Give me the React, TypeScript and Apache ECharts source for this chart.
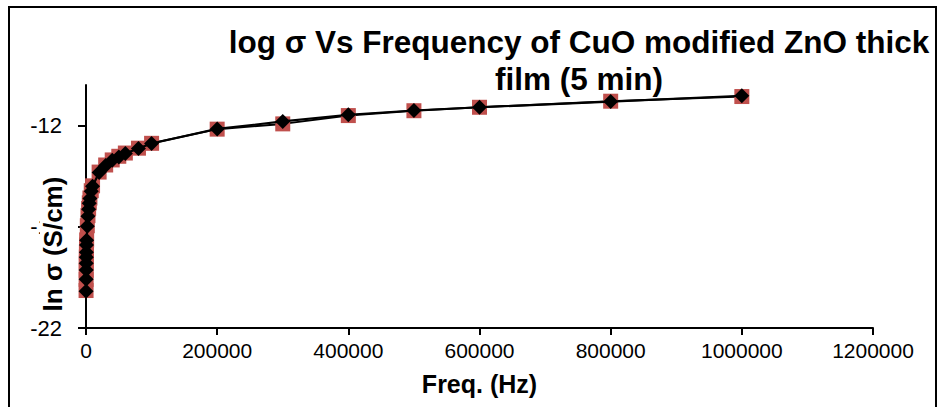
import React, { useEffect, useRef } from "react";
import * as echarts from "echarts";

// Frequencies (Hz)
const freqs = [
  100, 200, 300, 400, 500, 600, 800, 1000, 2000, 3000, 4000, 5000, 6000, 8000,
  10000, 20000, 30000, 40000, 50000, 60000, 80000, 100000, 200000, 300000,
  400000, 500000, 600000, 800000, 1000000,
];
// ln sigma (S/cm) — red square series
const lnSigmaSquares = [
  -20.15, -19.6, -19.15, -18.8, -18.5, -18.25, -17.9, -17.65, -16.95, -16.45,
  -16.1, -15.82, -15.58, -15.22, -14.98, -14.3, -13.95, -13.7, -13.52, -13.36,
  -13.12, -12.88, -12.18, -11.92, -11.51, -11.27, -11.1, -10.8, -10.57,
];
// ln sigma (S/cm) — black diamond series
const lnSigmaDiamonds = [
  -20.18, -19.59, -19.14, -18.8, -18.5, -18.26, -17.9, -17.67, -16.98, -16.48,
  -16.14, -15.84, -15.6, -15.25, -15.0, -14.32, -13.97, -13.72, -13.55, -13.38,
  -13.13, -12.89, -12.17, -11.8, -11.47, -11.26, -11.1, -10.82, -10.53,
];
const yTickValues = [-22, -17, -12];

const titleText = "log σ Vs Frequency of CuO modified ZnO thick\nfilm (5 min)";
const xName = "Freq. (Hz)";
const yName = "ln σ (S/cm)";

const FONT = "Liberation Sans, Arial, sans-serif";

export default function App() {
  const ref = useRef<HTMLDivElement>(null);
  useEffect(() => {
    if (!ref.current) return;
    const chart = echarts.init(ref.current, null, { renderer: "svg" });
    const sq = freqs.map((f, i) => [f, lnSigmaSquares[i]]);
    const di = freqs.map((f, i) => [f, lnSigmaDiamonds[i]]);
    chart.setOption({
      animation: false,
      backgroundColor: "#ffffff",
      title: {
        text: titleText,
        left: 579,
        top: 23,
        textAlign: "center",
        padding: 0,
        textStyle: {
          fontFamily: FONT,
          fontWeight: "bold",
          fontSize: 31.5,
          lineHeight: 37,
          color: "#000",
        },
      },
      grid: { left: 86, right: 67, top: 85, bottom: 79 },
      xAxis: {
        type: "value",
        min: 0,
        max: 1200000,
        interval: 200000,
        name: xName,
        nameLocation: "middle",
        nameGap: 43,
        nameTextStyle: {
          fontFamily: FONT,
          fontWeight: "bold",
          fontSize: 25,
          color: "#000",
        },
        axisLine: { lineStyle: { color: "#000", width: 2 } },
        axisTick: { length: 7, lineStyle: { color: "#000", width: 2 } },
        axisLabel: {
          fontFamily: FONT,
          fontSize: 21,
          color: "#000",
          margin: 12,
          formatter: (v: number) => String(v),
        },
        splitLine: { show: false },
      },
      yAxis: {
        type: "value",
        min: -22,
        max: -10,
        axisLine: { show: true, lineStyle: { color: "#000", width: 2 } },
        axisTick: {
          show: true,
          length: 8,
          customValues: yTickValues,
          lineStyle: { color: "#000", width: 2 },
        },
        axisLabel: {
          fontFamily: FONT,
          fontSize: 22,
          color: "#000",
          margin: 24,
          customValues: yTickValues,
        },
        splitLine: { show: false },
      },
      graphic: [
        {
          type: "rect",
          z: 100,
          silent: true,
          shape: { x: 9, y: 7, width: 927, height: 500 },
          style: { fill: "none", stroke: "#000", lineWidth: 2 },
        },
        {
          type: "text",
          z: 100,
          x: 53,
          y: 244,
          rotation: Math.PI / 2,
          style: {
            text: yName,
            fontFamily: FONT,
            fontWeight: "bold",
            fontSize: 26,
            fill: "#000",
            align: "center",
            verticalAlign: "middle",
            backgroundColor: "#fff",
            padding: [0, 2],
          },
        },
      ],
      series: [
        {
          type: "line",
          data: sq,
          symbol: "rect",
          symbolSize: 15,
          itemStyle: { color: "#C0504D" },
          lineStyle: { color: "#000", width: 2 },
          z: 2,
        },
        {
          type: "line",
          data: di,
          symbol: "diamond",
          symbolSize: 15,
          itemStyle: { color: "#000" },
          lineStyle: { color: "#000", width: 2.2 },
          z: 3,
        },
      ],
    });
    return () => chart.dispose();
  }, []);
  return (
    <div
      ref={ref}
      style={{ position: "fixed", left: 0, top: 0, width: 940, height: 407 }}
    />
  );
}
